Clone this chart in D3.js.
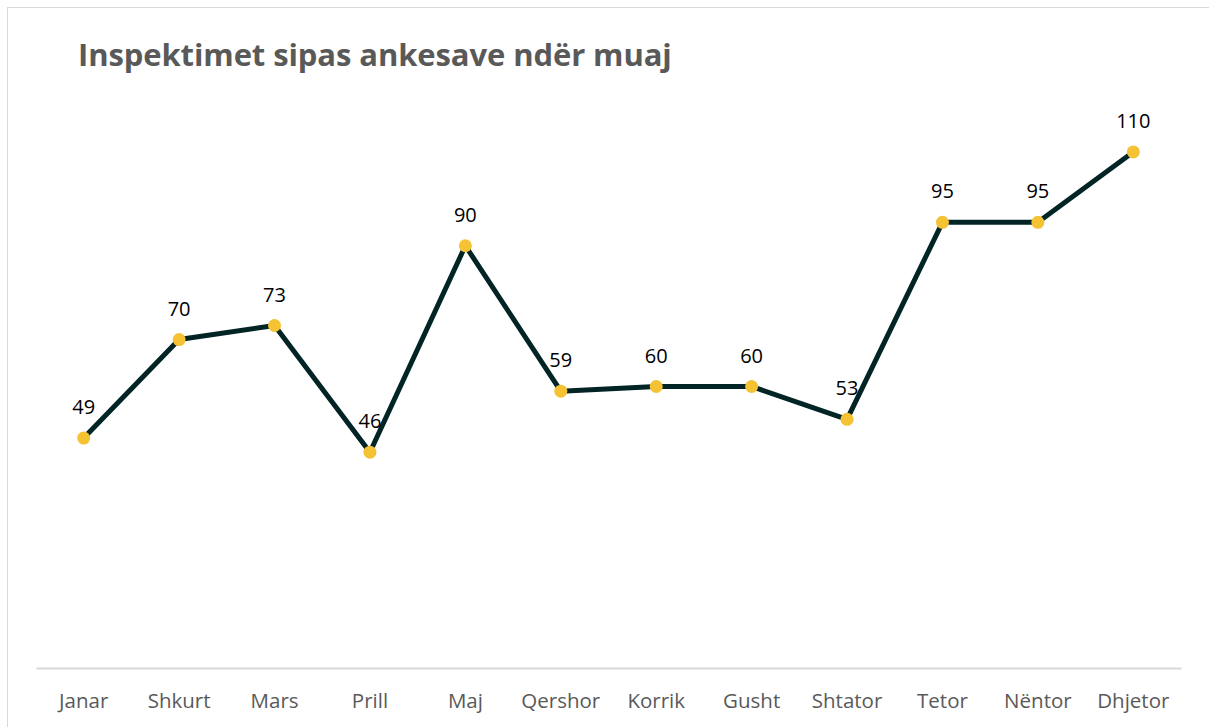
<!DOCTYPE html>
<meta charset="utf-8">
<body>
<script src="https://cdn.jsdelivr.net/npm/d3@7"></script>
<style>
    html, body {
        margin: 0;
        background: #fff;
    }
    text {
        font-family: "Open Sans", "Noto Sans", sans-serif;
    }
</style>
<script>
var months = ["Janar", "Shkurt", "Mars", "Prill", "Maj", "Qershor", "Korrik", "Gusht", "Shtator", "Tetor", "Nëntor", "Dhjetor"],
    values = [49, 70, 73, 46, 90, 59, 60, 60, 53, 95, 95, 110],
    title = "Inspektimet sipas ankesave ndër muaj";

var width = 1209,
    height = 727;

var svg = d3.select("body").append("svg")
    .attr("width", width)
    .attr("height", height);

// chart frame
svg.append("rect")
    .attr("x", 7.5)
    .attr("y", 7.5)
    .attr("width", width + 10)
    .attr("height", height + 10)
    .attr("fill", "none")
    .attr("stroke", "#d9d9d9");

svg.append("text")
    .attr("x", 78)
    .attr("y", 66)
    .attr("fill", "#595959")
    .attr("font-size", 31)
    .attr("font-weight", 700)
    .attr("letter-spacing", -0.1)
    .text(title);

var x = d3.scaleBand()
    .domain(months)
    .range([36, 1181]);

var y = d3.scaleLinear()
    .domain([0, 120])
    .range([668, 105]);

var xAxis = svg.append("g")
    .attr("transform", "translate(0," + y(0) + ")")
    .call(d3.axisBottom(x).tickSize(0).tickPadding(25));

xAxis.select(".domain").attr("stroke", "#d9d9d9").attr("stroke-width", 2);
xAxis.selectAll("text")
    .attr("fill", "#595959")
    .attr("font-size", 20.5)
    .style("font-family", "\"Open Sans\", sans-serif");

var cx = function(d, i) { return x(months[i]) + x.bandwidth() / 2; };

var line = d3.line()
    .x(cx)
    .y(function(d) { return y(d); });

svg.append("path")
    .datum(values)
    .attr("fill", "none")
    .attr("stroke", "#032424")
    .attr("stroke-width", 5)
    .attr("stroke-linejoin", "round")
    .attr("d", line);

svg.selectAll(".dot")
    .data(values)
    .enter().append("circle")
    .attr("class", "dot")
    .attr("cx", cx)
    .attr("cy", function(d) { return y(d); })
    .attr("r", 6.5)
    .attr("fill", "#f4c232");

svg.selectAll(".lbl")
    .data(values)
    .enter().append("text")
    .attr("class", "lbl")
    .attr("x", cx)
    .attr("y", function(d) { return y(d) - 24; })
    .attr("text-anchor", "middle")
    .attr("fill", "#000")
    .attr("font-size", 20)
    .text(function(d) { return d; });
</script>
